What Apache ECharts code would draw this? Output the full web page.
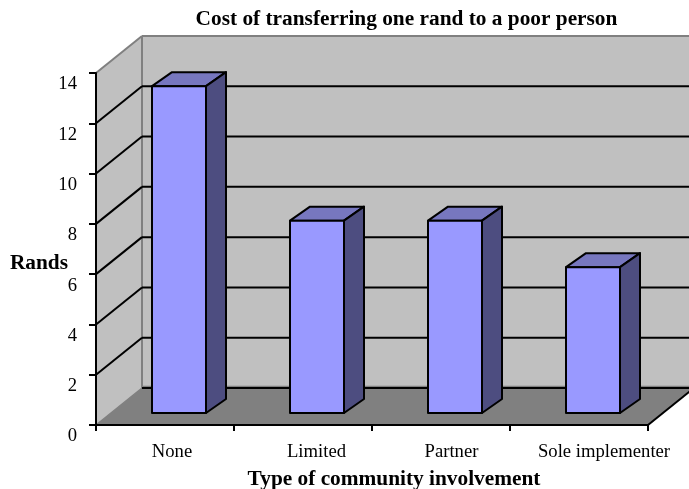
<!DOCTYPE html>
<html>
<head>
<meta charset="utf-8">
<style>html,body{margin:0;padding:0;background:#fff}#chart{width:689px;height:489px}</style>
<script src="https://cdn.jsdelivr.net/npm/echarts@6/dist/echarts.min.js"></script>
</head>
<body>
<div id="chart"></div>
<script>
const categories = ['None', 'Limited', 'Partner', 'Sole implementer'];
const costInRands = [13, 7.65, 7.65, 5.8];
const gridTicks = [2, 4, 6, 8, 10, 12];
const valueMax = 14;

const SERIF = '"Liberation Serif","Times New Roman",serif';
const WALL = '#C0C0C0', FLOOR = '#808080', EDGE = '#808080', INK = '#000000';
const BAR_FRONT = '#9999FF', BAR_TOP = '#7777BF', BAR_SIDE = '#4D4D80';

// Oblique projection: how far the back wall and the bars sit behind the front plane.
const WALL_DEPTH = [46, -37];
const BAR_INSET = [14, -12];
const BAR_DEPTH = [20, -14];
const BAR_WIDTH = 54;

const poly = (points, fill, stroke, lineWidth, z2) => ({
  type: 'polygon', z2: z2 || 0,
  shape: { points },
  style: { fill, stroke: stroke || null, lineWidth: lineWidth || 0, lineJoin: 'round' }
});
const seg = (a, b, stroke, lineWidth, z2) => ({
  type: 'line', z2: z2 || 0,
  shape: { x1: a[0], y1: a[1], x2: b[0], y2: b[1] },
  style: { stroke, lineWidth }
});
const shift = (p, d) => [p[0] + d[0], p[1] + d[1]];

// Back wall, side wall, floor and the gridlines that wrap around the walls.
function renderRoom(params, api) {
  const cs = params.coordSys;
  const x0 = cs.x, x1 = cs.x + cs.width;
  const yAt = v => api.coord([0, v])[1];
  const yBase = yAt(0), yTop = yAt(valueMax);
  const fl = [x0, yBase], fr = [x1, yBase], tl = [x0, yTop], tr = [x1, yTop];
  const blf = shift(fl, WALL_DEPTH), brf = shift(fr, WALL_DEPTH);
  const tlb = shift(tl, WALL_DEPTH), trb = shift(tr, WALL_DEPTH);
  const children = [
    poly([tlb, trb, brf, blf], WALL),
    poly([tl, tlb, blf, fl], WALL),
    poly([fl, blf, brf, fr], FLOOR),
    seg(tl, tlb, EDGE, 2),
    seg(tlb, trb, EDGE, 2),
    seg(tlb, blf, EDGE, 2),
    seg(fl, blf, EDGE, 1.5),
    seg([blf[0], blf[1] - 1.5], [brf[0], brf[1] - 1.5], EDGE, 1.5),
    seg(blf, brf, INK, 2, 1),
    seg(fr, brf, INK, 2, 1)
  ];
  gridTicks.forEach(v => {
    const a = [x0, yAt(v)];
    const b = shift(a, WALL_DEPTH);
    children.push(seg(a, b, INK, 2, 1));
    children.push(seg(b, [x1 + WALL_DEPTH[0], b[1]], INK, 2, 1));
  });
  return { type: 'group', children };
}

// One prism per category: front face, lid and right-hand side.
function renderBar(params, api) {
  const cx = api.coord([api.value(0), 0])[0] + BAR_INSET[0];
  const yBase = api.coord([api.value(0), 0])[1] + BAR_INSET[1];
  const yTop = api.coord([api.value(0), api.value(1)])[1] + BAR_INSET[1];
  const l = cx - BAR_WIDTH / 2, r = cx + BAR_WIDTH / 2;
  const tl = [l, yTop], tr = [r, yTop], br = [r, yBase], bl = [l, yBase];
  return {
    type: 'group',
    children: [
      poly([tl, tr, shift(tr, BAR_DEPTH), shift(tl, BAR_DEPTH)], BAR_TOP, INK, 2),
      poly([tr, shift(tr, BAR_DEPTH), shift(br, BAR_DEPTH), br], BAR_SIDE, INK, 2),
      poly([tl, tr, br, bl], BAR_FRONT, INK, 2)
    ]
  };
}

const labelNudges = [14, 27, 21, 50];
const categoryRich = {};
labelNudges.forEach((n, i) => {
  categoryRich['c' + i] = { fontFamily: SERIF, fontSize: 18.67, color: INK, padding: [0, 0, 0, n] };
});

const chart = echarts.init(document.getElementById('chart'), null, { renderer: 'canvas' });
chart.setOption({
  animation: false,
  backgroundColor: '#FFFFFF',
  title: {
    text: 'Cost of transferring one rand to a poor person',
    left: 401.5, top: 4, textAlign: 'center',
    textStyle: { fontFamily: SERIF, fontSize: 21.33, fontWeight: 'bold', color: INK }
  },
  grid: { left: 96, right: 41, top: 73, bottom: 64, containLabel: false, outerBoundsMode: 'none' },
  xAxis: {
    type: 'category', data: categories, z: 10,
    axisLine: { lineStyle: { color: INK, width: 2 } },
    axisTick: { show: true, alignWithLabel: false, length: 6, lineStyle: { color: INK, width: 2 } },
    axisLabel: {
      margin: 18, interval: 0,
      formatter: (value, i) => `{c${i}|${value}}`,
      rich: categoryRich
    },
    name: 'Type of community involvement', nameLocation: 'middle', nameGap: 44, nameMoveOverlap: false,
    nameTextStyle: { fontFamily: SERIF, fontSize: 21.33, fontWeight: 'bold', color: INK, padding: [0, 0, 0, 44] }
  },
  yAxis: {
    type: 'value', min: 0, max: valueMax, interval: 2, z: 10,
    splitLine: { show: false },
    axisLine: { show: true, lineStyle: { color: INK, width: 2 } },
    axisTick: { show: true, length: 7, lineStyle: { color: INK, width: 2 } },
    axisLabel: {
      margin: 19, fontFamily: SERIF, fontSize: 18.67, color: INK,
      verticalAlign: 'top', lineHeight: 23
    },
    name: 'Rands', nameLocation: 'middle', nameGap: 28, nameRotate: 0, nameMoveOverlap: false,
    nameTextStyle: { fontFamily: SERIF, fontSize: 21.33, fontWeight: 'bold', color: INK, verticalAlign: 'top', lineHeight: 28 }
  },
  series: [
    { type: 'custom', name: 'room', z: 1, clip: false, silent: true, data: [[0, 0]], renderItem: renderRoom, encode: { x: 0, y: 1 } },
    { type: 'custom', name: 'Cost', z: 3, clip: false, data: categories.map((c, i) => [i, costInRands[i]]), renderItem: renderBar, encode: { x: 0, y: 1 } }
  ]
});
</script>
</body>
</html>
